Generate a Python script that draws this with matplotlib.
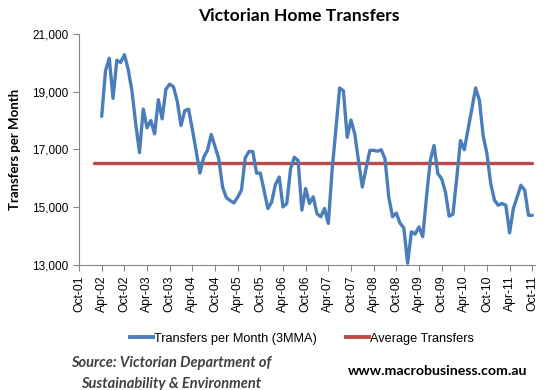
import numpy as np
import matplotlib
matplotlib.use("Agg")
import matplotlib.pyplot as plt
from matplotlib.lines import Line2D

# Months counted from Oct-01 (0) to Oct-11 (120)
start_month = 6          # Apr-02, first 3MMA point
avg_start_month = 4      # Feb-02
end_month = 120          # Oct-11

transfers_3mma = [
    18150, 19720, 20160, 18770, 20090, 20010, 20280, 19780, 19030, 17900,
    16890, 18400, 17750, 18000, 17540, 18720, 18060, 19090, 19260, 19170,
    18670, 17830, 18345, 18390, 17700, 16950, 16180, 16730, 16970, 17520,
    17100, 16680, 15700, 15330, 15230, 15150, 15350, 15590, 16710, 16930,
    16930, 16180, 16180, 15570, 14955, 15180, 15790, 16045, 15010, 15130,
    16330, 16730, 16620, 14900, 15650, 15130, 15360, 14780, 14670, 14955,
    14440, 16280, 17700, 19130, 19030, 17420, 18020, 17540, 16600, 15700,
    16350, 16970, 16970, 16940, 16990, 16680, 15360, 14670, 14800, 14440,
    14290, 13060, 14150, 14070, 14320, 13980, 15360, 16620, 17140, 16160,
    15990, 15530, 14690, 14760, 16000, 17310, 16990, 17700, 18400, 19130,
    18710, 17480, 16850, 15820, 15240, 15070, 15130, 15070, 14110, 14960,
    15350, 15760, 15590, 14720, 14720,
]
average_transfers = 16540

tick_labels = [
    "Oct-01", "Apr-02", "Oct-02", "Apr-03", "Oct-03", "Apr-04", "Oct-04",
    "Apr-05", "Oct-05", "Apr-06", "Oct-06", "Apr-07", "Oct-07", "Apr-08",
    "Oct-08", "Apr-09", "Oct-09", "Apr-10", "Oct-10", "Apr-11", "Oct-11",
]
y_ticks = [13000, 15000, 17000, 19000, 21000]

blue = "#4A7EBB"
red = "#BE4B48"
grey = "#868686"

fig, ax = plt.subplots(figsize=(5.49, 3.9), dpi=100)
fig.subplots_adjust(left=0.144, right=0.975, top=0.913, bottom=0.3205)

x_blue = np.arange(start_month, start_month + len(transfers_3mma))
x_red = np.arange(avg_start_month, end_month + 1)

ax.plot(x_red, [average_transfers] * len(x_red), color=red, lw=2.4,
        solid_capstyle="round")
ax.plot(x_blue, transfers_3mma, color=blue, lw=2.4,
        solid_joinstyle="round", solid_capstyle="round")

ax.set_xlim(0, 120.8)
ax.set_ylim(13000, 21000)
ax.set_yticks(y_ticks)
ax.set_yticklabels([f"{v:,}" for v in y_ticks], fontsize=8.5,
                   family="Liberation Sans")
ax.set_xticks(np.arange(0, 121, 6))
ax.set_xticklabels(tick_labels, rotation=90, fontsize=8.7,
                   family="Liberation Sans")

for side in ["top", "right"]:
    ax.spines[side].set_visible(False)
for side in ["left", "bottom"]:
    ax.spines[side].set_color(grey)
ax.tick_params(colors=grey, labelcolor="black", length=4, width=0.8,
               direction="out")

ax.set_ylabel("Transfers per Month", fontsize=9.5, fontweight="bold",
              family="Lato", labelpad=8)

fig.text(0.545, 0.958, "Victorian Home Transfers", ha="center", va="center",
         fontsize=12.6, fontweight="bold", family="Lato")

handles = [Line2D([0], [0], color=blue, lw=2.8),
           Line2D([0], [0], color=red, lw=2.8)]
fig.legend(handles, ["Transfers per Month (3MMA)", "Average Transfers"],
           loc="center", bbox_to_anchor=(0.55, 0.131), ncol=2, frameon=False,
           handlelength=1.8, handletextpad=0.1, columnspacing=2.3,
           prop={"family": "Liberation Sans", "size": 9.2})

fig.text(0.311, 0.042, "Source: Victorian Department of\nSustainability & Environment",
         ha="center", va="center", fontsize=10.5, fontweight="bold",
         style="italic", family="Lato", color="#404040", linespacing=1.65)
fig.text(0.797, 0.048, "www.macrobusiness.com.au", ha="center", va="center",
         fontsize=10.2, fontweight="bold", family="Lato", color="black")

fig.savefig("out.png", dpi=100)
